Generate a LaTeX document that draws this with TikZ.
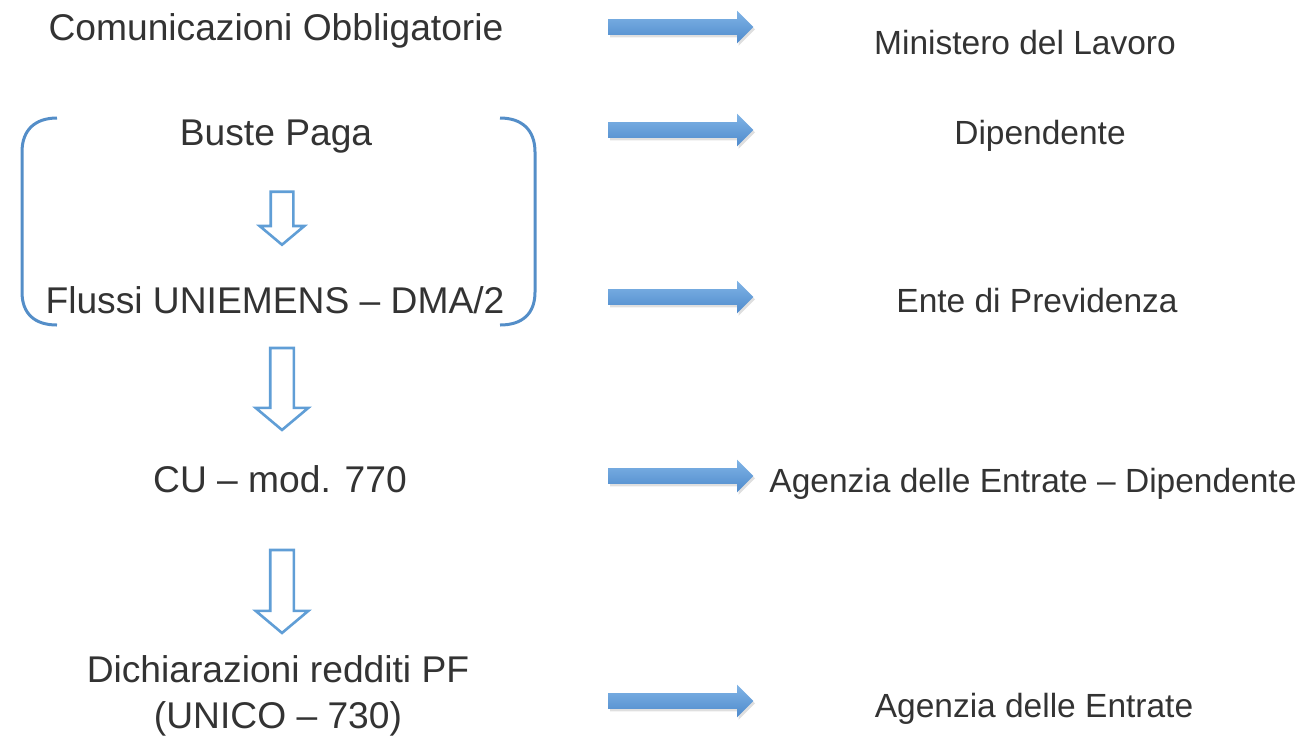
\documentclass[tikz,border=0pt]{standalone}
\usepackage{fontspec}
\setmainfont{Liberation Sans}
\usetikzlibrary{shapes.arrows,shadows}
\definecolor{txtgray}{RGB}{51,51,51}
\definecolor{arrtop}{RGB}{128,180,230}
\definecolor{arrbot}{RGB}{78,138,204}
\definecolor{outblue}{RGB}{96,158,214}
\definecolor{brackblue}{RGB}{84,142,200}
\tikzset{
	lefttxt/.style={anchor=base, text=txtgray, inner sep=0pt, font=\fontsize{18.6}{23.5}\selectfont},
	righttxt/.style={anchor=base, text=txtgray, inner sep=0pt, font=\fontsize{16.75}{20}\selectfont},
	flowarrow/.style={single arrow, top color=arrtop, bottom color=arrbot, draw=none,
		minimum height=72.5pt, inner xsep=0pt, inner ysep=3.75pt, outer sep=0pt,
		single arrow head extend=4.25pt, single arrow tip angle=90,
		drop shadow={shadow xshift=.8pt, shadow yshift=-1.2pt, opacity=.25}},
	downarrow/.style={single arrow, draw=outblue, fill=white, line width=1.3pt,
		shape border rotate=270, inner ysep=0pt, outer sep=0pt, single arrow tip angle=100},
}
\begin{document}
\begin{tikzpicture}[x=0.5pt, y=-0.5pt]
	\useasboundingbox (0,0) rectangle (1304,741);
	% left column
	\node[lefttxt] (co) at (276, 40) {Comunicazioni Obbligatorie};
	\node[lefttxt] (bp) at (276, 145) {Buste Paga};
	\node[lefttxt] (fu) at (275, 313) {Flussi UNIEMENS -- DMA/2};
	\node[lefttxt] (cu) at (280, 492) {CU -- mod. 770};
	\node[lefttxt] (dr) at (278, 682) {Dichiarazioni redditi PF};
	\node[lefttxt] (dr2) at (278, 728) {(UNICO -- 730)};
	% right column
	\node[righttxt] (ml) at (1025, 54) {Ministero del Lavoro};
	\node[righttxt] (dp) at (1040, 144) {Dipendente};
	\node[righttxt] (ep) at (1037, 312) {Ente di Previdenza};
	\node[righttxt] (ae) at (1033, 492) {Agenzia delle Entrate -- Dipendente};
	\node[righttxt] (ag) at (1034, 717) {Agenzia delle Entrate};
	% arrows to the right
	\foreach \y/\nm in {27/a1, 130/a2, 297/a3, 476/a4, 701/a5} {
		\node[flowarrow] (\nm) at (677, \y) {};
	}
	% hollow arrows down
	\node[downarrow, minimum height=26.5pt, inner xsep=5pt, single arrow head extend=5.5pt] (d1) at (282, 213.5) {};
	\node[downarrow, minimum height=41pt, inner xsep=5.25pt, single arrow head extend=7.25pt] (d2) at (282, 384) {};
	\node[downarrow, minimum height=41.5pt, inner xsep=5.25pt, single arrow head extend=7.25pt] (d3) at (282, 586.5) {};
	% bracket
	\draw[brackblue, line width=1.5pt] (57,118) .. controls (35,118) and (22,130) .. (22,152) -- (22,292) .. controls (22,314) and (35,325) .. (57,325);
	\draw[brackblue, line width=1.5pt] (500,118) .. controls (522,118) and (535,130) .. (535,152) -- (535,292) .. controls (535,314) and (522,325) .. (500,325);
\end{tikzpicture}
\end{document}
